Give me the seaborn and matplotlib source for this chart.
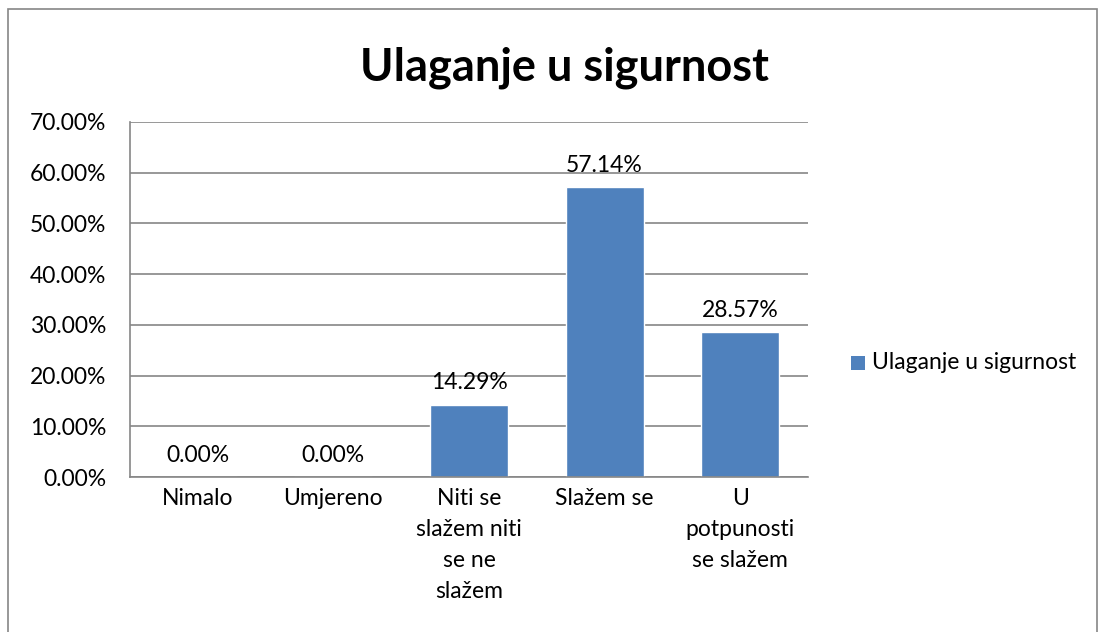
import pandas as pd
import seaborn as sns
import matplotlib.pyplot as plt
from matplotlib.patches import Rectangle

# Podaci
kategorije = ["Nimalo", "Umjereno", "Niti se slažem niti se ne slažem", "Slažem se", "U potpunosti se slažem"]
oznake_x = ["Nimalo", "Umjereno", "Niti se\nslažem niti\nse ne\nslažem", "Slažem se", "U\npotpunosti\nse slažem"]
postotci = [0.0, 0.0, 14.29, 57.14, 28.57]
naslov = "Ulaganje u sigurnost"
y_ticks = [0, 10, 20, 30, 40, 50, 60, 70]

df = pd.DataFrame({"kategorija": kategorije, "postotak": postotci, "serija": naslov})

sns.set_style("white")
plt.rcParams['font.family'] = ['Lato', 'DejaVu Sans']
fs = 16.5

W, H = 1106, 632
fig = plt.figure(figsize=(W / 100, H / 100), dpi=100)
ax = fig.add_axes([130 / W, 1 - 477 / H, 678 / W, 355 / H])

sns.barplot(data=df, x="kategorija", y="postotak", hue="serija",
            palette=["#4F81BD"], width=0.575, ax=ax, saturation=1, legend=False)

ax.set_ylim(0, 70)
ax.set_xlim(-0.5, len(kategorije) - 0.5)
ax.set_yticks(y_ticks)
ax.set_yticklabels([f"{v:.2f}%" for v in y_ticks], fontsize=fs)
ax.set_xticks(range(len(kategorije)))
ax.set_xticklabels(oznake_x, fontsize=fs, linespacing=1.58, va="top")
ax.tick_params(axis="x", length=0, pad=8, colors="black")
ax.tick_params(axis="y", length=0, pad=17, colors="black")
ax.set_xlabel("")
ax.set_ylabel("")
ax.yaxis.grid(True, color="#868686", linewidth=1.2)
ax.set_axisbelow(True)
for s in ["top", "right"]:
    ax.spines[s].set_visible(False)
for s in ["left", "bottom"]:
    ax.spines[s].set_color("#868686")
    ax.spines[s].set_linewidth(1.2)

for i, v in enumerate(postotci):
    ax.annotate(f"{v:.2f}%", (i, v), xytext=(0, 8), textcoords="offset points",
                ha="center", va="bottom", fontsize=fs, color="black")

fig.text(565 / W, 1 - 68 / H, naslov, ha="center", va="center",
         fontsize=32.5, fontweight="bold", color="black")

# Legenda
fig.patches.append(Rectangle((851 / W, 1 - 370 / H), 14 / W, 14 / H, transform=fig.transFigure,
                             facecolor="#4F81BD", edgecolor="none"))
fig.text(872 / W, 1 - 363 / H, naslov, ha="left", va="center", fontsize=fs, color="black")

# Okvir grafikona
fig.patches.append(Rectangle((8 / W, -0.01), 1089 / W, 1 - 9 / H + 0.01, transform=fig.transFigure,
                             facecolor="none", edgecolor="#868686", linewidth=1.2))

fig.savefig("out.png", dpi=100)
